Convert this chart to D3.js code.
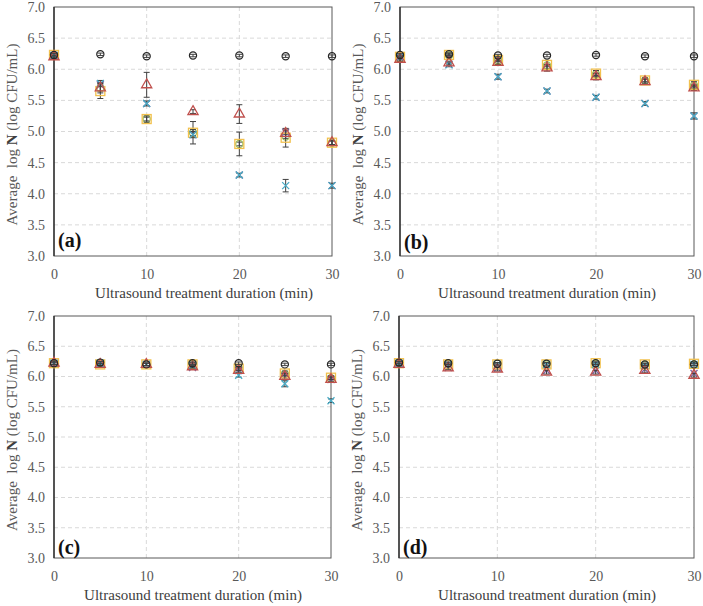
<!DOCTYPE html>
<html>
<head>
<meta charset="utf-8">
<script src="https://cdn.jsdelivr.net/npm/d3@7"></script>
<style>
  body { margin: 0; background: #fff; }
  svg, svg text { font-family: "Liberation Serif", "DejaVu Serif", serif !important; }
</style>
</head>
<body>
<svg width="703" height="606"></svg>
<script>
// treatment time (min)
var times = [0, 5, 10, 15, 20, 25, 30];
var yTicks = [3.0, 3.5, 4.0, 4.5, 5.0, 5.5, 6.0, 6.5, 7.0];
var xTicks = [0, 10, 20, 30];
var panelLabels = ["(a)", "(b)", "(c)", "(d)"];

// one row per panel (a)-(d)
var controlVals = [
  [6.23, 6.24, 6.21, 6.22, 6.22, 6.21, 6.21],
  [6.23, 6.24, 6.22, 6.22, 6.23, 6.21, 6.21],
  [6.22, 6.23, 6.20, 6.22, 6.22, 6.20, 6.20],
  [6.23, 6.22, 6.21, 6.21, 6.22, 6.20, 6.20]
];
var controlErr = [
  [0.02, 0.02, 0.02, 0.02, 0.02, 0.02, 0.02],
  [0.02, 0.02, 0.02, 0.02, 0.02, 0.02, 0.02],
  [0.02, 0.02, 0.02, 0.02, 0.02, 0.02, 0.02],
  [0.02, 0.02, 0.02, 0.02, 0.02, 0.02, 0.02]
];
var greenVals = [
  [6.22, 5.70, 5.20, 4.98, 4.80, 4.92, 4.82],
  [6.22, 6.22, 6.15, 6.06, 5.92, 5.82, 5.74],
  [6.22, 6.22, 6.20, 6.21, 6.14, 6.04, 5.97],
  [6.22, 6.21, 6.21, 6.20, 6.21, 6.19, 6.20]
];
var greenErr = [
  [0.02, 0.05, 0.03, 0.18, 0.03, 0.03, 0.03],
  [0.02, 0.02, 0.02, 0.02, 0.02, 0.02, 0.02],
  [0.02, 0.02, 0.02, 0.02, 0.02, 0.02, 0.02],
  [0.02, 0.02, 0.02, 0.02, 0.02, 0.02, 0.02]
];
var purpleVals = [
  [6.22, 5.75, 5.45, 4.95, 4.30, 4.99, 4.13],
  [6.18, 6.08, 5.88, 5.65, 5.55, 5.45, 5.25],
  [6.22, 6.21, 6.20, 6.15, 6.10, 6.00, 5.95],
  [6.21, 6.15, 6.14, 6.10, 6.10, 6.12, 6.05]
];
var squareVals = [
  [6.23, 5.65, 5.20, 4.98, 4.80, 4.90, 4.82],
  [6.20, 6.23, 6.15, 6.07, 5.93, 5.82, 5.75],
  [6.22, 6.20, 6.20, 6.20, 6.13, 6.05, 5.98],
  [6.22, 6.20, 6.20, 6.20, 6.22, 6.20, 6.21]
];
var squareErr = [
  [0.03, 0.12, 0.05, 0.05, 0.19, 0.15, 0.03],
  [0.03, 0.03, 0.03, 0.07, 0.05, 0.04, 0.05],
  [0.02, 0.02, 0.02, 0.02, 0.03, 0.04, 0.03],
  [0.02, 0.02, 0.02, 0.02, 0.02, 0.02, 0.02]
];
var aquaVals = [
  [6.22, 5.77, 5.45, 4.95, 4.30, 4.13, 4.13],
  [6.20, 6.07, 5.88, 5.65, 5.55, 5.45, 5.25],
  [6.22, 6.22, 6.20, 6.18, 6.02, 5.88, 5.60],
  [6.22, 6.20, 6.20, 6.20, 6.20, 6.18, 6.20]
];
var aquaErr = [
  [0.02, 0.05, 0.04, 0.05, 0.03, 0.10, 0.04],
  [0.02, 0.03, 0.04, 0.03, 0.03, 0.03, 0.05],
  [0.02, 0.02, 0.02, 0.02, 0.03, 0.05, 0.03],
  [0.02, 0.02, 0.02, 0.02, 0.02, 0.02, 0.02]
];
var triangleVals = [
  [6.20, 5.70, 5.75, 5.32, 5.28, 4.97, 4.82],
  [6.16, 6.10, 6.11, 6.02, 5.88, 5.80, 5.70],
  [6.22, 6.20, 6.20, 6.16, 6.10, 6.00, 5.95],
  [6.20, 6.14, 6.12, 6.07, 6.07, 6.10, 6.02]
];
var triangleErr = [
  [0.02, 0.08, 0.20, 0.03, 0.15, 0.05, 0.03],
  [0.03, 0.03, 0.03, 0.05, 0.05, 0.04, 0.04],
  [0.02, 0.02, 0.02, 0.02, 0.04, 0.05, 0.04],
  [0.02, 0.03, 0.03, 0.03, 0.03, 0.04, 0.03]
];

var series = [
  {vals: greenVals, err: greenErr, shape: "circle", color: "#9bbb59"},
  {vals: purpleVals, err: null, shape: "x", color: "#8064a2"},
  {vals: squareVals, err: squareErr, shape: "square", color: "#f2c14e"},
  {vals: aquaVals, err: aquaErr, shape: "x", color: "#4bacc6"},
  {vals: triangleVals, err: triangleErr, shape: "triangle", color: "#c0504d"},
  {vals: controlVals, err: controlErr, shape: "circle", color: "#262626"}
];

var FONT = "Liberation Serif, DejaVu Serif, serif";
var svg = d3.select("svg");

// panel frames (px)
var panels = [
  {left: 54, right: 332, top: 7, bottom: 256, titleX: 204, labelY: 240},
  {left: 400, right: 694, top: 7, bottom: 256, titleX: 547, labelY: 242},
  {left: 54, right: 331, top: 316, bottom: 558, titleX: 193, labelY: 547},
  {left: 399, right: 694, top: 316, bottom: 558, titleX: 547, labelY: 547}
];

panels.forEach(function(p, pi) {
  var x = d3.scaleLinear().domain([0, 30]).range([p.left, p.right]);
  var y = d3.scaleLinear().domain([3, 7]).range([p.bottom, p.top]);
  var g = svg.append("g").attr("font-family", FONT);

  // grid
  g.selectAll(".hgrid").data(yTicks.slice(1, -1)).enter().append("line")
    .attr("x1", p.left).attr("x2", p.right)
    .attr("y1", function(d) { return y(d); }).attr("y2", function(d) { return y(d); })
    .attr("stroke", "#d9d9d9").attr("stroke-dasharray", "4,3");
  g.selectAll(".vgrid").data([10, 20]).enter().append("line")
    .attr("y1", p.top).attr("y2", p.bottom)
    .attr("x1", function(d) { return x(d); }).attr("x2", function(d) { return x(d); })
    .attr("stroke", "#d9d9d9").attr("stroke-dasharray", "4,3");

  // frame
  g.append("rect")
    .attr("x", p.left).attr("y", p.top)
    .attr("width", p.right - p.left).attr("height", p.bottom - p.top)
    .attr("fill", "none").attr("stroke", "#595959").attr("stroke-width", 1);
  g.append("line")
    .attr("x1", p.left).attr("x2", p.left).attr("y1", p.top).attr("y2", p.bottom)
    .attr("stroke", "#262626").attr("stroke-width", 1.3);

  // axes (labels only)
  var yAxis = g.append("g").attr("transform", "translate(" + p.left + ",0)")
    .call(d3.axisLeft(y).tickValues(yTicks).tickSize(0).tickPadding(9)
      .tickFormat(d3.format(".1f")));
  yAxis.attr("font-family", FONT).attr("font-size", 14);
  yAxis.select(".domain").remove();
  yAxis.selectAll("text").attr("fill", "#595959");

  var xAxis = g.append("g").attr("transform", "translate(0," + p.bottom + ")")
    .call(d3.axisBottom(x).tickValues(xTicks).tickSize(0).tickPadding(13));
  xAxis.attr("font-family", FONT).attr("font-size", 14);
  xAxis.select(".domain").remove();
  xAxis.selectAll("text").attr("fill", "#595959");

  g.append("text")
    .attr("x", p.titleX).attr("y", p.bottom + 42)
    .attr("text-anchor", "middle").attr("font-size", 15).attr("fill", "#404040")
    .text("Ultrasound treatment duration (min)");

  var yt = g.append("text")
    .attr("transform", "translate(" + (p.left - 37) + "," + ((p.top + p.bottom) / 2 + 3) + ") rotate(-90)")
    .attr("text-anchor", "middle").attr("font-size", 15).attr("fill", "#595959")
    .attr("xml:space", "preserve");
  yt.append("tspan").text("Average  log ");
  yt.append("tspan").attr("font-weight", "bold").attr("fill", "#404040").text("N");
  yt.append("tspan").text(" (log CFU/mL)");

  g.append("text")
    .attr("x", p.left + 4).attr("y", p.labelY + 7)
    .attr("font-size", 20).attr("font-weight", "bold").attr("fill", "#111")
    .text(panelLabels[pi]);

  // series
  series.forEach(function(s) {
    var pts = times.map(function(t, i) {
      return {t: t, v: s.vals[pi][i], e: s.err ? s.err[pi][i] : 0};
    });
    var sg = g.append("g");
    if (s.err) {
      var eb = sg.selectAll(".eb").data(pts).enter().append("g")
        .attr("stroke", "#404040").attr("stroke-width", 1);
      eb.append("line")
        .attr("x1", function(d) { return x(d.t); }).attr("x2", function(d) { return x(d.t); })
        .attr("y1", function(d) { return y(d.v - d.e); }).attr("y2", function(d) { return y(d.v + d.e); });
      eb.append("line")
        .attr("x1", function(d) { return x(d.t) - 3; }).attr("x2", function(d) { return x(d.t) + 3; })
        .attr("y1", function(d) { return y(d.v - d.e); }).attr("y2", function(d) { return y(d.v - d.e); });
      eb.append("line")
        .attr("x1", function(d) { return x(d.t) - 3; }).attr("x2", function(d) { return x(d.t) + 3; })
        .attr("y1", function(d) { return y(d.v + d.e); }).attr("y2", function(d) { return y(d.v + d.e); });
    }
    var m = sg.selectAll(".m").data(pts).enter().append("g")
      .attr("transform", function(d) { return "translate(" + x(d.t) + "," + y(d.v) + ")"; });
    if (s.shape == "circle") {
      m.append("circle").attr("r", 3.6).attr("fill", "none")
        .attr("stroke", s.color).attr("stroke-width", 1.2);
    } else if (s.shape == "square") {
      m.append("rect").attr("x", -4.5).attr("y", -4.5).attr("width", 9).attr("height", 9)
        .attr("fill", "none").attr("stroke", s.color).attr("stroke-width", 1.3);
    } else if (s.shape == "triangle") {
      m.append("path").attr("d", d3.symbol().type(d3.symbolTriangle).size(45))
        .attr("fill", "none").attr("stroke", s.color).attr("stroke-width", 1.3);
    } else {
      m.append("path").attr("d", "M-3.5,-3.5L3.5,3.5M-3.5,3.5L3.5,-3.5")
        .attr("fill", "none").attr("stroke", s.color).attr("stroke-width", 1.3);
    }
  });
});
</script>
</body>
</html>
